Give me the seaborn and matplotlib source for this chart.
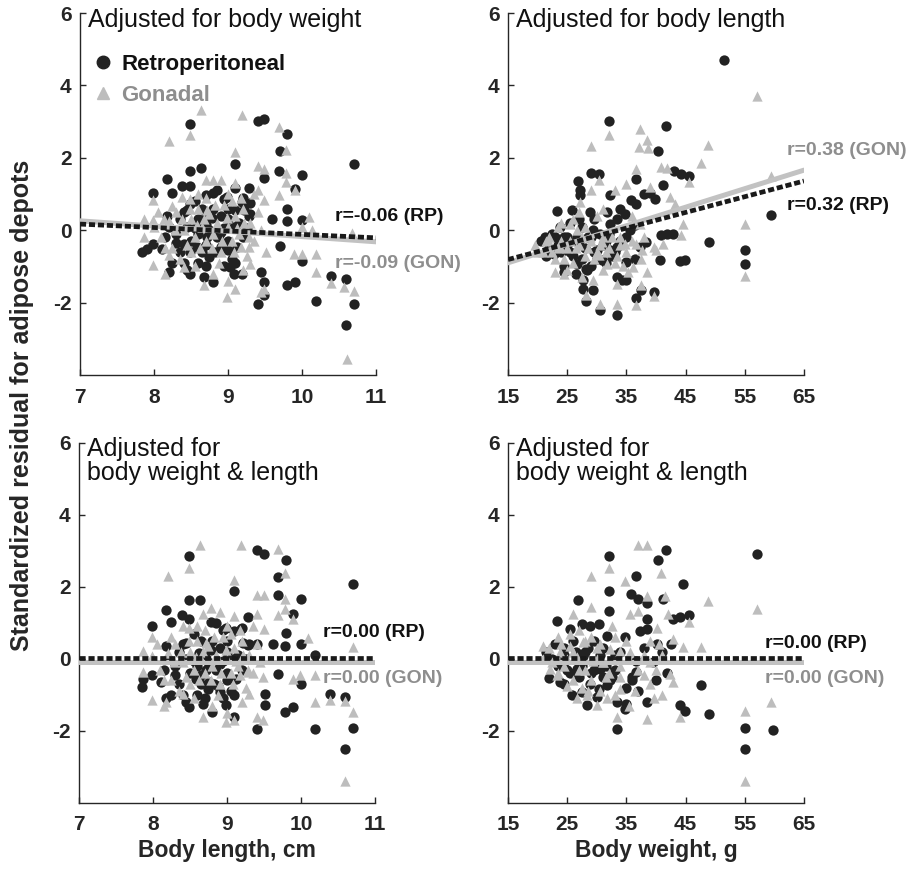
import pandas as pd
import matplotlib
matplotlib.use("Agg")
import matplotlib.pyplot as plt
from matplotlib.lines import Line2D
import seaborn as sns

sns.set_style("ticks")
plt.rcParams.update({
    "font.family": ["Liberation Sans", "DejaVu Sans"],
    "font.weight": "bold",
    "axes.unicode_minus": False,
    "axes.linewidth": 1.0,
    "xtick.direction": "in",
    "ytick.direction": "in",
    "xtick.major.size": 4,
    "ytick.major.size": 4,
    "xtick.labelsize": 15,
    "ytick.labelsize": 15,
})

RP_COL = "#222222"
GON_COL = "#bdbdbd"
GON_TXT = "#8e8e8e"

# ---- data: (x, standardized residual) ----
# top left: body length vs residual adjusted for body weight
tl_rp = [(8.49, 2.93), (9.40, 3.02), (9.49, 3.08), (9.80, 2.65), (9.70, 2.18), (10.70, 1.84),
         (9.09, 1.84), (8.49, 1.63), (8.64, 1.72), (9.69, 1.64), (10.0, 1.53), (8.18, 1.42),
         (8.38, 1.23), (8.49, 1.22), (9.49, 1.45), (9.90, 1.15), (7.99, 1.03), (8.24, 1.04),
         (8.70, 0.98), (8.80, 1.03), (9.10, 1.18), (9.29, 1.18), (8.99, 0.92), (9.19, 0.78),
         (9.30, 0.75), (8.49, 0.72), (9.80, 0.60), (9.10, 0.55), (8.17, 0.39), (8.60, 0.32),
         (8.69, 0.35), (9.29, 0.39), (9.60, 0.32), (9.80, 0.26), (10.0, 0.29), (7.84, -0.60),
         (7.90, -0.51), (7.99, -0.39), (8.11, -0.51), (8.40, -0.37), (8.49, -0.60), (8.70, -0.42),
         (8.88, -0.14), (8.90, -0.46), (9.70, -0.44), (10.0, -0.85), (8.20, -1.15), (8.49, -1.20),
         (8.68, -1.29), (8.80, -1.43), (9.03, -1.01), (9.08, -1.20), (9.19, -1.20), (9.44, -1.15),
         (9.49, -1.43), (9.80, -1.52), (9.90, -1.43), (10.39, -1.27), (10.59, -1.36), (9.40, -2.03),
         (10.19, -1.95), (10.70, -2.05), (10.59, -2.63), (9.49, -1.80),
         (8.45, 0.1), (8.55, 0.05), (8.6, -0.1), (8.7, 0.15), (8.75, 0.0), (8.85, -0.2),
         (8.95, 0.05), (9.0, -0.3), (9.05, -0.8), (9.1, -0.9), (8.95, -1.0), (8.65, -0.6),
         (8.5, -0.3), (8.35, -0.6), (8.3, -0.1), (8.2, 0.1), (8.25, -0.9), (9.15, 0.2),
         (9.2, -0.2), (9.25, 0.05), (8.8, 0.6), (8.65, 0.6), (8.55, 0.8), (8.9, 0.4),
         (9.0, 0.3), (8.4, 0.5), (8.6, -0.9), (8.75, -0.75), (9.2, 0.9), (8.95, 0.85),
         (9.3, 0.45), (8.85, 1.1), (9.0, -0.55), (8.7, -1.0), (8.45, -1.1),
         (8.35, 0.3), (8.45, 0.55), (8.62, 0.25), (8.78, 0.35), (8.9, -0.05), (9.08, 0.1),
         (9.12, -0.45), (8.58, -0.45), (8.82, -0.6), (8.3, -0.35), (8.15, -0.2), (9.22, 0.55),
         (8.72, -0.2), (9.0, 0.6), (8.4, -0.9)]
tl_gon = [(8.64, 3.31), (9.19, 3.18), (8.49, 2.64), (8.20, 2.47), (9.69, 2.85), (9.78, 2.21),
          (9.09, 2.16), (9.40, 1.77), (9.49, 1.68), (9.78, 1.58), (9.78, 1.33), (9.90, 1.10),
          (9.69, 0.97), (9.40, 1.12), (8.70, 1.38), (8.80, 1.38), (8.38, 0.92), (8.49, 0.87),
          (7.99, 0.83), (8.24, 0.66), (9.49, 0.83), (10.10, 0.37), (7.86, 0.32), (7.99, 0.29),
          (8.13, 0.32), (10.0, 0.09), (10.14, 0.0), (10.68, -0.09), (7.86, -0.19), (9.89, -0.65),
          (10.0, -0.65), (10.19, -0.65), (7.99, -0.97), (8.20, -0.69), (8.40, -1.01), (8.68, -1.52),
          (8.99, -1.84), (9.10, -1.61), (9.44, -1.70), (9.49, -1.61), (10.19, -1.15), (10.39, -1.47),
          (10.57, -1.56), (10.70, -1.68), (10.61, -3.55), (9.17, -0.46), (9.28, -0.46), (9.30, -0.92),
          (9.51, -0.60),
          (8.0, 0.1), (8.1, -0.2), (8.2, 0.25), (8.3, 0.5), (8.4, 0.0), (8.45, -0.4), (8.5, 0.3),
          (8.55, -0.2), (8.6, 0.6), (8.65, 0.1), (8.7, -0.3), (8.75, 0.45), (8.8, -0.1), (8.85, 0.2),
          (8.9, -0.6), (8.95, 0.7), (9.0, 0.1), (9.0, 1.0), (9.05, -0.3), (9.1, 0.4), (9.1, 1.3),
          (9.15, -0.1), (9.2, 0.6), (9.25, -0.7), (9.3, 0.2), (9.35, -0.3), (9.4, 0.5), (9.45, 0.0),
          (8.35, -0.8), (8.55, -1.0), (8.8, -1.2), (9.0, -1.4), (9.2, -1.1), (8.25, -0.5), (8.6, 1.0),
          (8.9, 1.4), (9.05, 0.8), (8.7, 0.9), (9.35, 1.0), (8.15, -1.2),
          (8.05, 0.5), (8.15, -0.5), (8.28, 0.0), (8.38, 0.3), (8.5, -0.6), (8.62, -0.5),
          (8.68, 0.3), (8.78, -0.5), (8.82, 0.7), (8.92, -0.3), (8.98, 0.35), (9.08, -0.6),
          (9.12, 0.05), (9.18, 0.9), (9.22, 0.2), (9.28, -0.2), (8.72, 0.55), (8.58, 0.15),
          (8.48, 0.6), (8.88, -0.9)]

# top right: body weight vs residual adjusted for body length
tr_rp = [(51.5, 4.69), (32.0, 3.02), (41.7, 2.87), (40.4, 2.19), (43.0, 1.65), (44.3, 1.54),
         (45.5, 1.49), (29.1, 1.58), (30.4, 1.54), (26.9, 1.35), (27.2, 1.10), (27.2, 0.96),
         (36.6, 1.42), (41.2, 1.24), (23.2, 0.52), (59.5, 0.41), (35.7, 0.84), (36.7, 0.73),
         (37.9, 1.01), (39.0, 1.03), (39.8, 0.87), (33.9, 0.60), (34.8, 0.46), (28.9, 0.50),
         (31.7, 0.50), (32.2, 0.96), (25.8, 0.55), (48.9, -0.32), (55.0, -0.54), (55.0, -0.94),
         (40.8, -0.14), (41.8, -0.10), (42.9, -0.10), (44.1, -0.85), (44.9, -0.81), (40.7, -0.81),
         (38.3, -0.32), (37.3, -0.46), (34.9, -0.88), (36.5, -0.79), (32.2, -0.55), (33.4, -0.46),
         (28.3, -1.11), (27.7, -1.38), (27.7, -1.61), (29.4, -1.64), (28.2, -1.95), (30.5, -2.21),
         (33.4, -2.35), (34.2, -1.37), (35.0, -1.38), (33.4, -1.29), (36.6, -1.86), (37.4, -1.64),
         (39.6, -1.71), (22.7, -0.65), (24.4, -1.15), (26.6, -0.92), (28.2, -1.06), (23.8, 0.09),
         (24.9, -0.19), (21.3, -0.19), (30.0, -0.55), (30.8, -0.83), (35.6, 0.0), (36.5, 0.14),
         (32.2, 0.18), (33.4, 0.32), (29.4, 0.0), (26.6, -0.19),
         (20.5, -0.3), (22.0, -0.5), (23.0, -0.2), (24.0, -0.6), (25.0, -0.4), (26.0, -0.7),
         (27.0, -0.3), (28.0, -0.5), (29.0, -0.2), (30.0, -0.8), (31.0, -0.4), (32.0, -0.1),
         (25.5, 0.2), (27.5, 0.1), (24.5, -1.0), (26.5, -1.2), (29.0, -1.0), (31.5, -0.9),
         (33.0, -0.6), (34.0, -0.3),
         (21.5, -0.7), (22.5, -0.1), (23.5, -0.4), (24.5, -0.2), (25.5, -0.6), (26.5, -0.3),
         (27.5, -0.8), (28.5, -0.2), (29.5, -0.6), (30.5, -0.1), (31.5, -0.3), (32.5, -0.7),
         (27.0, 0.3), (29.5, 0.3), (35.0, -0.2)]
tr_gon = [(57.1, 3.70), (32.0, 2.62), (37.3, 2.79), (38.5, 2.50), (37.2, 2.30), (38.7, 2.28),
          (29.1, 2.32), (48.8, 2.35), (47.6, 1.86), (36.7, 1.70), (40.8, 1.75), (41.8, 1.73),
          (45.6, 1.33), (59.5, 1.49), (30.4, 1.38), (34.9, 1.29), (27.2, 0.78), (29.1, 1.10),
          (33.1, 1.10), (39.0, 1.19), (42.4, 0.92), (43.2, 0.73), (55.0, 0.16), (55.0, -1.27),
          (44.6, 0.18), (44.3, -0.14), (39.6, -0.46), (41.2, -0.37), (40.0, -0.55), (36.7, -0.37),
          (37.6, -0.55), (33.4, -1.48), (33.4, -2.05), (30.5, -2.05), (36.6, -2.07), (37.4, -1.52),
          (39.6, -1.83), (38.4, -1.15), (28.2, -1.80), (22.9, -1.15), (24.4, -1.22), (29.4, -1.38),
          (35.3, -1.15), (36.2, -1.02), (31.7, -0.92), (30.3, -0.69), (25.5, 0.18), (26.6, 0.0),
          (28.9, -0.19), (30.8, -0.32), (33.9, -0.19), (34.8, -0.37), (23.8, -0.46), (21.8, -0.28),
          (37.3, 0.18),
          (19.5, -0.4), (21.0, -0.6), (22.0, -0.2), (23.0, -0.8), (24.0, -0.3), (25.0, -0.5),
          (26.0, -0.9), (27.0, -0.4), (28.0, -0.7), (29.0, -0.3), (30.0, -0.6), (31.0, -0.2),
          (32.0, -0.5), (33.0, -0.9), (34.0, -0.4), (35.0, -0.6), (23.5, 0.1), (26.0, 0.3),
          (28.0, 0.1), (30.0, 0.4), (25.0, -1.1), (27.5, -1.3), (31.0, -1.1), (36.0, -0.3),
          (37.5, -0.8),
          (20.0, -0.6), (21.5, -0.3), (22.5, -0.6), (23.5, -0.5), (24.5, -0.8), (25.5, -0.3),
          (26.5, -0.5), (27.5, -0.2), (28.5, -0.5), (29.5, -0.8), (30.5, -0.4), (31.5, -0.6),
          (32.5, -0.2), (33.5, -0.7), (24.0, 0.2), (27.0, 0.5), (31.0, 0.6), (36.0, 0.4),
          (38.0, -0.2), (34.5, -1.0)]

# bottom left: body length vs residual adjusted for body weight & length
bl_rp = [(8.49, 2.86), (9.40, 3.01), (9.50, 2.92), (9.80, 2.74), (9.69, 2.28), (10.70, 2.09),
         (9.09, 1.87), (8.49, 1.63), (8.63, 1.63), (9.69, 1.76), (10.0, 1.65), (8.18, 1.35),
         (8.39, 1.23), (8.49, 1.10), (8.79, 1.03), (8.24, 1.01), (7.99, 0.90), (9.89, 1.24),
         (9.28, 1.15), (8.99, 0.87), (9.10, 0.78), (9.19, 0.83), (9.80, 0.73), (8.17, 0.35),
         (9.28, 0.38), (9.40, 0.41), (9.62, 0.41), (9.79, 0.35), (10.0, 0.41), (10.19, 0.11),
         (7.86, -0.55), (7.99, -0.46), (7.85, -0.78), (8.11, -0.64), (9.69, -0.41), (10.0, -0.69),
         (8.18, -1.10), (8.49, -1.33), (8.68, -1.26), (8.80, -1.47), (8.99, -1.29), (8.90, -0.92),
         (9.10, -1.61), (9.51, -1.29), (9.51, -0.97), (9.79, -1.47), (9.89, -1.33), (10.39, -0.97),
         (10.59, -1.06), (9.40, -1.96), (10.19, -1.96), (10.70, -1.93), (10.59, -2.50), (8.65, -0.46),
         (8.76, -0.64), (8.88, -0.74),
         (8.45, 0.0), (8.55, -0.05), (8.6, -0.2), (8.7, 0.05), (8.75, -0.1), (8.85, -0.3),
         (8.95, -0.05), (9.0, -0.4), (9.05, -0.9), (9.1, -1.0), (8.95, -1.1), (8.65, -0.7),
         (8.5, -0.4), (8.35, -0.7), (8.3, -0.2), (8.2, 0.0), (8.25, -1.0), (9.15, 0.1),
         (9.2, -0.3), (9.25, 0.0), (8.8, 0.5), (8.65, 0.5), (8.55, 0.7), (8.9, 0.3),
         (9.0, 0.2), (8.4, 0.4), (8.6, -1.0), (8.75, -0.85), (9.2, 0.85), (8.95, 0.8),
         (9.3, 0.4), (8.85, 1.0), (9.0, -0.6), (8.7, -1.1), (8.45, -1.2),
         (8.35, 0.2), (8.45, 0.45), (8.62, 0.15), (8.78, 0.25), (8.9, -0.15), (9.08, 0.0),
         (9.12, -0.55), (8.58, -0.55), (8.82, -0.7), (8.3, -0.45), (8.15, -0.3), (9.22, 0.45),
         (8.72, -0.3), (9.0, 0.5), (8.4, -1.0)]
bl_gon = [(8.64, 3.17), (9.19, 3.17), (9.69, 3.05), (8.49, 2.52), (8.20, 2.29), (9.79, 2.39),
          (9.09, 2.18), (9.40, 1.76), (9.50, 1.76), (9.79, 1.65), (9.79, 1.39), (9.69, 1.21),
          (9.89, 1.10), (9.40, 1.24), (8.79, 1.42), (8.68, 1.24), (8.40, 0.92), (8.49, 0.87),
          (7.99, 0.60), (8.24, 0.60), (9.50, 0.83), (10.1, 0.57), (10.70, 0.32), (7.86, 0.23),
          (7.99, 0.09), (7.86, -0.37), (9.98, -0.46), (9.89, -0.55), (10.19, -0.46), (7.99, -1.15),
          (8.18, -1.19), (8.40, -0.97), (8.68, -1.61), (8.99, -1.75), (9.10, -1.70), (9.40, -1.61),
          (9.49, -1.70), (10.19, -1.19), (10.39, -1.15), (10.59, -1.18), (10.70, -1.47), (10.59, -3.40),
          (9.17, -0.46), (9.28, -0.37), (9.30, -0.97), (9.49, -0.51),
          (8.0, 0.0), (8.1, -0.3), (8.2, 0.15), (8.3, 0.4), (8.4, -0.1), (8.45, -0.5), (8.5, 0.2),
          (8.55, -0.3), (8.6, 0.5), (8.65, 0.0), (8.7, -0.4), (8.75, 0.35), (8.8, -0.2), (8.85, 0.1),
          (8.9, -0.7), (8.95, 0.6), (9.0, 0.0), (9.0, 0.9), (9.05, -0.4), (9.1, 0.3), (9.1, 1.2),
          (9.15, -0.2), (9.2, 0.5), (9.25, -0.8), (9.3, 0.1), (9.35, -0.4), (9.4, 0.4), (9.45, -0.1),
          (8.35, -0.9), (8.55, -1.1), (8.8, -1.3), (9.0, -1.5), (9.2, -1.2), (8.25, -0.6), (8.6, 0.9),
          (8.9, 1.3), (9.05, 0.7), (8.7, 0.8), (9.35, 0.9), (8.15, -1.3),
          (8.05, 0.4), (8.15, -0.6), (8.28, -0.1), (8.38, 0.2), (8.5, -0.7), (8.62, -0.6),
          (8.68, 0.2), (8.78, -0.6), (8.82, 0.6), (8.92, -0.4), (8.98, 0.25), (9.08, -0.7),
          (9.12, -0.05), (9.18, 0.8), (9.22, 0.1), (9.28, -0.3), (8.72, 0.45), (8.58, 0.05),
          (8.48, 0.5), (8.88, -1.0)]

# bottom right: body weight vs residual adjusted for body weight & length
br_rp = [(57.1, 2.92), (41.7, 3.01), (32.0, 2.86), (40.4, 2.74), (36.6, 2.29), (44.6, 2.09),
         (32.0, 1.87), (35.7, 1.79), (37.0, 1.65), (38.4, 1.54), (41.2, 1.65), (26.9, 1.63),
         (32.1, 1.33), (23.2, 1.05), (25.5, 0.84), (27.5, 0.96), (28.9, 0.92), (30.4, 0.96),
         (38.4, 1.10), (42.9, 1.10), (44.1, 1.17), (45.5, 1.21), (37.3, 0.78), (38.4, 0.83),
         (34.8, 0.60), (31.7, 0.64), (40.1, 0.41), (47.6, -0.72), (55.0, -1.93), (59.8, -1.98),
         (55.0, -2.50), (44.1, -1.29), (44.9, -1.45), (48.9, -1.52), (33.4, -1.96), (22.0, -0.53),
         (23.8, -0.64), (24.4, -0.69), (25.8, -1.01), (27.5, -0.92), (28.3, -1.27), (30.0, -1.06),
         (31.7, -0.72), (32.2, -0.60), (33.4, -1.20), (34.8, -1.38), (35.0, -1.24), (35.9, -0.60),
         (36.6, -0.37), (41.8, -0.39), (36.7, -0.05), (28.9, -0.69), (30.3, -0.83), (22.7, -0.05),
         (24.4, -0.09), (26.6, -0.28), (27.7, 0.09), (30.6, -0.28),
         (21.5, 0.2), (23.0, 0.4), (24.5, 0.3), (26.0, 0.5), (28.0, 0.2), (29.5, 0.5), (31.0, 0.3),
         (33.0, 0.1), (25.0, -0.3), (27.0, -0.5), (29.0, -0.4), (31.0, -0.5), (33.0, -0.3),
         (35.0, -0.8), (37.0, -0.9), (38.5, -1.2), (39.5, -0.1), (41.0, 0.2), (42.5, 0.4),
         (22.5, 0.0), (23.5, -0.2), (24.5, 0.1), (25.5, -0.4), (26.5, 0.2), (27.5, -0.2),
         (28.5, 0.3), (29.5, -0.3), (30.5, 0.1), (31.5, -0.2), (32.5, -0.5), (34.0, 0.2),
         (36.0, -0.5), (38.0, 0.3), (40.0, -0.6)]
br_gon = [(37.0, 3.17), (38.4, 3.17), (32.0, 2.52), (29.1, 2.29), (34.8, 2.16), (40.9, 2.39),
          (38.5, 1.74), (41.5, 1.74), (48.8, 1.61), (57.1, 1.39), (29.1, 1.45), (26.0, 1.24),
          (35.6, 1.24), (37.0, 1.33), (42.1, 1.24), (45.5, 1.03), (40.1, 0.87), (42.9, 0.55),
          (47.6, 0.32), (44.5, 0.32), (21.0, 0.35), (59.5, -1.20), (55.0, -1.45), (55.0, -3.40),
          (39.6, -1.10), (41.0, -1.01), (38.4, -1.67), (33.4, -1.61), (44.1, -1.61), (42.9, -0.64),
          (42.4, -0.41), (22.1, -0.28), (23.2, -0.46), (24.9, -0.74), (26.6, -1.10), (28.3, -1.01),
          (30.0, -1.29), (31.7, -1.10), (33.9, -0.83), (37.9, -0.46), (39.0, -0.69), (25.5, 0.37),
          (27.7, 0.46), (30.6, 0.41), (32.2, 0.28), (33.9, 0.23), (35.6, 0.18), (23.8, 0.18),
          (26.6, 0.04), (29.4, -0.05), (31.1, -0.09),
          (21.0, 0.0), (22.0, 0.3), (23.5, 0.6), (24.5, -0.2), (25.5, 0.7), (27.0, 0.8),
          (28.0, -0.3), (29.0, 0.6), (30.0, 0.0), (31.5, -0.5), (32.5, 0.9), (34.0, -0.2),
          (35.0, 0.5), (36.5, -0.9), (38.0, 0.1), (39.0, 0.5), (40.0, -0.3), (41.0, 0.1),
          (26.0, -0.6), (28.5, -0.9), (35.5, -1.3),
          (22.5, -0.1), (23.5, -0.4), (24.0, 0.4), (25.0, 0.0), (26.0, 0.2), (27.0, -0.3),
          (28.0, 0.5), (29.0, -0.6), (30.0, 0.3), (31.0, -0.1), (32.0, -0.4), (33.0, 0.6),
          (34.0, -0.5), (35.5, 0.0), (37.0, -0.3), (39.0, -0.1), (40.5, 0.4), (30.5, -0.9),
          (27.5, -0.8), (33.0, -1.0)]

# fitted regression lines (end points) and reported r
len_fit_x = [7, 11]
wt_fit_x = [15, 65]
tl_rp_fit, tl_gon_fit = [0.17, -0.21], [0.26, -0.32]
tr_rp_fit, tr_gon_fit = [-0.81, 1.36], [-0.90, 1.66]
bl_rp_fit, bl_gon_fit = [0.02, 0.02], [-0.09, -0.09]
br_rp_fit, br_gon_fit = [0.02, 0.02], [-0.10, -0.10]

r_labels = {
    "tl": ("r=-0.06 (RP)", "r=-0.09 (GON)"),
    "tr": ("r=0.32 (RP)", "r=0.38 (GON)"),
    "bl": ("r=0.00 (RP)", "r=0.00 (GON)"),
    "br": ("r=0.00 (RP)", "r=0.00 (GON)"),
}
titles = {
    "tl": "Adjusted for body weight",
    "tr": "Adjusted for body length",
    "bl": "Adjusted for\nbody weight & length",
    "br": "Adjusted for\nbody weight & length",
}
len_ticks = [7, 8, 9, 10, 11]
wt_ticks = [15, 25, 35, 45, 55, 65]
y_ticks = [-2, 0, 2, 4, 6]


def to_df(pairs):
    return pd.DataFrame(pairs, columns=["x", "y"])


fig = plt.figure(figsize=(9.1, 8.75), dpi=100)
axes = {
    "tl": fig.add_axes([0.0879, 0.5714, 0.3253, 0.4137]),
    "tr": fig.add_axes([0.5582, 0.5714, 0.3253, 0.4137]),
    "bl": fig.add_axes([0.0868, 0.0823, 0.3253, 0.4118]),
    "br": fig.add_axes([0.5582, 0.0823, 0.3253, 0.4118]),
}

panels = {
    "tl": (tl_rp, tl_gon, len_fit_x, tl_rp_fit, tl_gon_fit, len_ticks, (10.44, 0.39), (10.44, -0.91)),
    "tr": (tr_rp, tr_gon, wt_fit_x, tr_rp_fit, tr_gon_fit, wt_ticks, (62.1, 0.69), (62.1, 2.21)),
    "bl": (bl_rp, bl_gon, len_fit_x, bl_rp_fit, bl_gon_fit, len_ticks, (10.3, 0.73), (10.3, -0.54)),
    "br": (br_rp, br_gon, wt_fit_x, br_rp_fit, br_gon_fit, wt_ticks, (58.4, 0.43), (58.4, -0.54)),
}

for key, (rp, gon, fx, rp_fit, gon_fit, xt, rp_pos, gon_pos) in panels.items():
    ax = axes[key]
    d_rp, d_gon = to_df(rp), to_df(gon)
    sns.scatterplot(data=d_rp, x="x", y="y", marker="o", s=55, color=RP_COL,
                    linewidth=0, ax=ax, zorder=2)
    sns.scatterplot(data=d_gon, x="x", y="y", marker="^", s=55, color=GON_COL,
                    linewidth=0, ax=ax, zorder=3)
    sns.lineplot(x=fx, y=gon_fit, color="#c2c2c2", lw=3.6, ax=ax, zorder=4)
    sns.lineplot(x=fx, y=rp_fit, color="#1a1a1a", lw=3.4, ax=ax, zorder=5,
                 linestyle=(0, (1.3, 0.6)))

    ax.set_xlim(xt[0], xt[-1])
    ax.set_ylim(-4, 6)
    ax.set_xticks(xt)
    ax.set_yticks(y_ticks)
    ax.tick_params(axis="y", pad=6, width=1, length=4)
    ax.tick_params(axis="x", pad=9, width=1, length=4)
    for lab in ax.get_xticklabels() + ax.get_yticklabels():
        lab.set_fontweight("bold")
    sns.despine(ax=ax)
    ax.set_xlabel("")
    ax.set_ylabel("")

    ax.text(0.027, 1.015, titles[key], transform=ax.transAxes, ha="left", va="top",
            fontsize=18, fontweight="normal", linespacing=1.0, color="#111111")
    ax.text(rp_pos[0], rp_pos[1], r_labels[key][0], ha="left", va="center",
            fontsize=14, fontweight="bold", color="#111111")
    ax.text(gon_pos[0], gon_pos[1], r_labels[key][1], ha="left", va="center",
            fontsize=14, fontweight="bold", color=GON_TXT)

# legend in the first panel
handles = [
    Line2D([], [], marker="o", color=RP_COL, linestyle="none", markersize=9),
    Line2D([], [], marker="^", color=GON_COL, linestyle="none", markersize=9),
]
leg = axes["tl"].legend(handles, ["Retroperitoneal", "Gonadal"], loc="upper left",
                        bbox_to_anchor=(0.0, 0.925), frameon=False, fontsize=16,
                        handlelength=0.9, handletextpad=0.35, labelspacing=0.45,
                        borderaxespad=0.2)
for txt, col in zip(leg.get_texts(), ["#111111", GON_TXT]):
    txt.set_color(col)
    txt.set_fontweight("bold")

axes["bl"].set_xlabel("Body length, cm", fontsize=16.5, fontweight="bold", labelpad=3.5)
axes["br"].set_xlabel("Body weight, g", fontsize=16.5, fontweight="bold", labelpad=3.5)
fig.text(0.024, 0.537, "Standardized residual for adipose depots", rotation=90,
         ha="center", va="center", fontsize=18, fontweight="bold")

fig.savefig("out.png", dpi=100)
